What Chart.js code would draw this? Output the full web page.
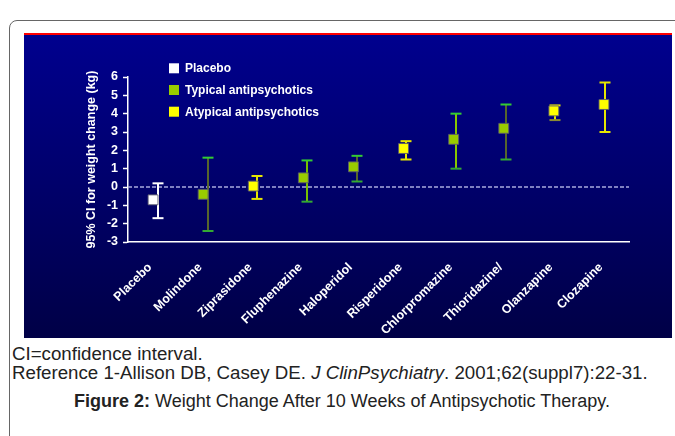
<!DOCTYPE html>
<html>
<head>
<meta charset="utf-8">
<script src="https://cdn.jsdelivr.net/npm/chart.js@4.4.1/dist/chart.umd.min.js"></script>
<style>
body { margin: 0; width: 675px; height: 436px; overflow: hidden; position: relative; background: #fff; font-family: "Liberation Sans", Arial, sans-serif; }
#frame { position: absolute; left: 9px; top: 20px; width: 720px; height: 460px; border: 1px solid #666; border-radius: 8px; }
#panel { position: absolute; left: 24px; top: 33px; width: 648px; height: 305px; box-sizing: border-box; border-top: 2px solid #ff0000; background: linear-gradient(#00008e, #000046); }
#chart-wrap { position: absolute; left: 0; top: 0; width: 648px; height: 303px; }
.note { position: absolute; left: 12px; font-size: 18.7px; line-height: 20px; color: #222; white-space: nowrap; }
#caption { position: absolute; left: 0; width: 684px; top: 391px; text-align: center; font-size: 18px; line-height: 20px; color: #222; white-space: nowrap; }
</style>
</head>
<body>
<div id="frame"></div>
<div id="panel"><div id="chart-wrap"><canvas id="wt-chart"></canvas></div></div>
<div class="note" style="top:344px">CI=confidence interval.</div>
<div class="note" style="top:363px">Reference 1-Allison DB, Casey DE. <i>J ClinPsychiatry</i>. 2001;62(suppl7):22-31.</div>
<div id="caption"><b>Figure 2:</b> Weight Change After 10 Weeks of Antipsychotic Therapy.</div>

<script>
// drugs along the x axis, and which group each belongs to
var categories = ['Placebo', 'Molindone', 'Ziprasidone', 'Fluphenazine', 'Haloperidol',
	'Risperidone', 'Chlorpromazine', 'Thioridazine/', 'Olanzapine', 'Clozapine'];
var groups = ['placebo', 'typical', 'atypical', 'typical', 'typical',
	'atypical', 'typical', 'typical', 'atypical', 'atypical'];

// mean weight change (kg) and 95% CI bounds
var meanChange = [-0.7, -0.4, 0.05, 0.5, 1.1, 2.1, 2.6, 3.2, 4.15, 4.5];
var ciLow = [-1.7, -2.4, -0.65, -0.8, 0.3, 1.5, 1.0, 1.5, 3.65, 3.0];
var ciHigh = [0.2, 1.6, 0.6, 1.45, 1.7, 2.5, 4.0, 4.5, 4.45, 5.7];

var yMin = -3, yMax = 6, yStep = 1;

var seriesNames = { placebo: 'Placebo', typical: 'Typical antipsychotics', atypical: 'Atypical antipsychotics' };
var seriesColors = { placebo: '#ffffff', typical: '#99cc00', atypical: '#ffff00' };

// error bar colours (stem / top cap / bottom cap) per drug
var stemColors = ['#ffffff', '#56662c', '#e6e600', '#77c000', '#56662c', '#e6e600', '#88c800', '#56662c', '#e6e600', '#e6e600'];
var capTopColors = ['#ffffff', '#33cc33', '#e6e600', '#33cc33', '#33cc33', '#e6e600', '#33cc33', '#33cc33', '#e6e600', '#e6e600'];
var capBotColors = ['#ffffff', '#33aa33', '#e6e600', '#33aa33', '#33aa33', '#e6e600', '#33aa33', '#33aa33', '#8a8a33', '#e6e600'];

var fontFamily = '"Liberation Sans", Arial, sans-serif';

var errorBars = {
	id: 'errorBars',
	beforeDatasetsDraw: function(chart) {
		var ctx = chart.ctx, xs = chart.scales.x, ys = chart.scales.y, area = chart.chartArea;
		ctx.save();
		// dashed zero line
		var y0 = ys.getPixelForValue(0);
		ctx.strokeStyle = '#a8aade';
		ctx.lineWidth = 1.6;
		ctx.setLineDash([4, 2]);
		ctx.beginPath();
		ctx.moveTo(area.left, y0);
		ctx.lineTo(area.right, y0);
		ctx.stroke();
		ctx.setLineDash([]);

		for (var i = 0; i < categories.length; i++) {
			var x = Math.round(xs.getPixelForValue(i) + 5 - 0.45 * i);
			var yHi = ys.getPixelForValue(ciHigh[i]);
			var yLo = ys.getPixelForValue(ciLow[i]);
			ctx.lineWidth = 2;
			ctx.strokeStyle = stemColors[i];
			ctx.beginPath(); ctx.moveTo(x, yHi); ctx.lineTo(x, yLo); ctx.stroke();
			ctx.strokeStyle = capTopColors[i];
			ctx.beginPath(); ctx.moveTo(x - 5.5, yHi); ctx.lineTo(x + 5.5, yHi); ctx.stroke();
			ctx.strokeStyle = capBotColors[i];
			ctx.beginPath(); ctx.moveTo(x - 5.5, yLo); ctx.lineTo(x + 5.5, yLo); ctx.stroke();
		}
		ctx.restore();
	},
	afterDraw: function(chart) {
		// legend in the upper left of the plot
		var ctx = chart.ctx, area = chart.chartArea;
		ctx.save();
		ctx.font = 'bold 12px ' + fontFamily;
		ctx.textBaseline = 'middle';
		chart.data.datasets.forEach(function(ds, k) {
			var ly = area.top - 8.7 + k * 21.7;
			var lx = area.left + 41;
			ctx.fillStyle = ds.backgroundColor;
			ctx.fillRect(lx, ly - 5, 10, 10);
			ctx.fillStyle = '#ffffff';
			ctx.fillText(ds.label, lx + 16, ly + 0.5);
		});
		ctx.restore();
	}
};

var datasets = ['placebo', 'typical', 'atypical'].map(function(g) {
	return {
		label: seriesNames[g],
		data: categories.map(function(c, i) { return groups[i] === g ? meanChange[i] : null; }),
		backgroundColor: seriesColors[g],
		borderColor: 'rgba(90,90,110,0.9)',
		borderWidth: 1,
		pointStyle: 'rect',
		pointRadius: 7,
		showLine: false
	};
});

new Chart(document.getElementById('wt-chart'), {
	type: 'line',
	data: { labels: categories, datasets: datasets },
	options: {
		responsive: true,
		maintainAspectRatio: false,
		animation: false,
		devicePixelRatio: 1,
		layout: { padding: { left: 56, right: 43, top: 42, bottom: 0 } },
		plugins: { legend: { display: false }, tooltip: { enabled: false } },
		scales: {
			x: {
				offset: true,
				grid: { display: false, drawTicks: false },
				border: { color: '#ffffff', width: 1.5 },
				ticks: {
					color: '#ffffff', autoSkip: false, maxRotation: 45, minRotation: 45,
					padding: 18, labelOffset: -3,
					font: { family: fontFamily, size: 12.5, weight: 'bold' }
				},
				afterFit: function(s) { s.height = 96; }
			},
			y: {
				min: yMin, max: yMax,
				ticks: {
					stepSize: yStep, color: '#ffffff', padding: 5,
					font: { family: fontFamily, size: 12.5, weight: 'bold' }
				},
				grid: { drawOnChartArea: false, drawTicks: true, tickLength: 5, tickColor: '#ffffff', tickWidth: 1.5 },
				border: { color: '#ffffff', width: 1.5 },
				title: {
					display: true, text: '95% CI for weight change (kg)', color: '#ffffff',
					font: { family: fontFamily, size: 12.5, weight: 'bold' },
					padding: { top: 4.5, bottom: 0 }
				},
				afterFit: function(s) { s.width = 48; }
			}
		}
	},
	plugins: [errorBars]
});
</script>
</body>
</html>
